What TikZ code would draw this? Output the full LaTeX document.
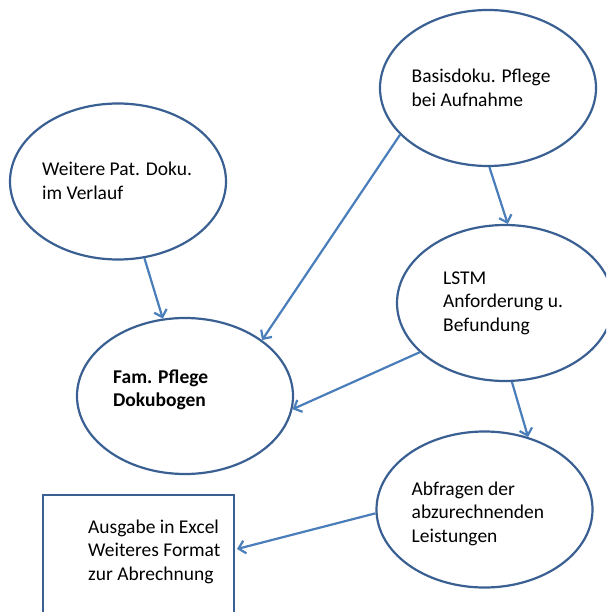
\documentclass[tikz,border=0pt]{standalone}
\usepackage{fontspec}
\setmainfont{Carlito}
\usetikzlibrary{shapes.geometric,arrows.meta}
\definecolor{shapeblue}{HTML}{3A6093}
\definecolor{arrowblue}{HTML}{4A7EBB}
\tikzset{
  oval/.style={ellipse, draw=shapeblue, line width=2.2pt, minimum width=216pt, minimum height=156pt, inner sep=0pt},
  boxnode/.style={rectangle, draw=shapeblue, line width=2.2pt, minimum width=191pt, minimum height=160pt, inner sep=0pt},
  txt/.style={anchor=base west, align=left, inner sep=0pt, font=\fontsize{19.5pt}{23.7pt}\selectfont},
  conn/.style={draw=arrowblue, line width=2.2pt, -{Straight Barb[length=6.5pt,width=13pt,line width=2.2pt]}}
}
\begin{document}
\begin{tikzpicture}[x=1pt,y=-1pt]
\useasboundingbox (0,0) rectangle (606,612);
\clip (0,0) rectangle (606,612);
\fill[white] (0,0) rectangle (606,612);
\node[oval] (basis) at (488,88) {};
\node[oval] (weitere) at (118,181.5) {};
\node[oval] (fam) at (185,396) {};
\node[oval] (lstm) at (505,303) {};
\node[oval] (abf) at (484.5,509.5) {};
\node[boxnode] (ausgabe) at (138.4,575) {};
\node[txt] (tbasis) at (411.5,106.7) {Basisdoku. Pflege\\bei Aufnahme};
\node[txt] (tweitere) at (42,199.7) {Weitere Pat. Doku.\\im Verlauf};
\node[txt,font=\fontsize{19.5pt}{23.7pt}\selectfont\bfseries] (tfam) at (113,406.7) {Fam. Pflege\\Dokubogen};
\node[txt] (tlstm) at (443,331.4) {LSTM\\Anforderung u.\\Befundung};
\node[txt] (tabf) at (411.5,542.4) {Abfragen der\\abzurechnenden\\Leistungen};
\node[txt] (tausgabe) at (88,580.4) {Ausgabe in Excel\\Weiteres Format\\zur Abrechnung};
\draw[conn] (basis.208.6) -- (fam.36.6);
\draw[conn] (basis.271) -- (lstm.88.5);
\draw[conn] (weitere.289.2) -- (fam.106.7);
\draw[conn] (lstm.210.9) -- (fam.353.9);
\draw[conn] (lstm.275.1) -- (abf.59.7);
\draw[conn] (abf.182.4) -- ([yshift=26pt,xshift=2pt]ausgabe.east);
\end{tikzpicture}
\end{document}
